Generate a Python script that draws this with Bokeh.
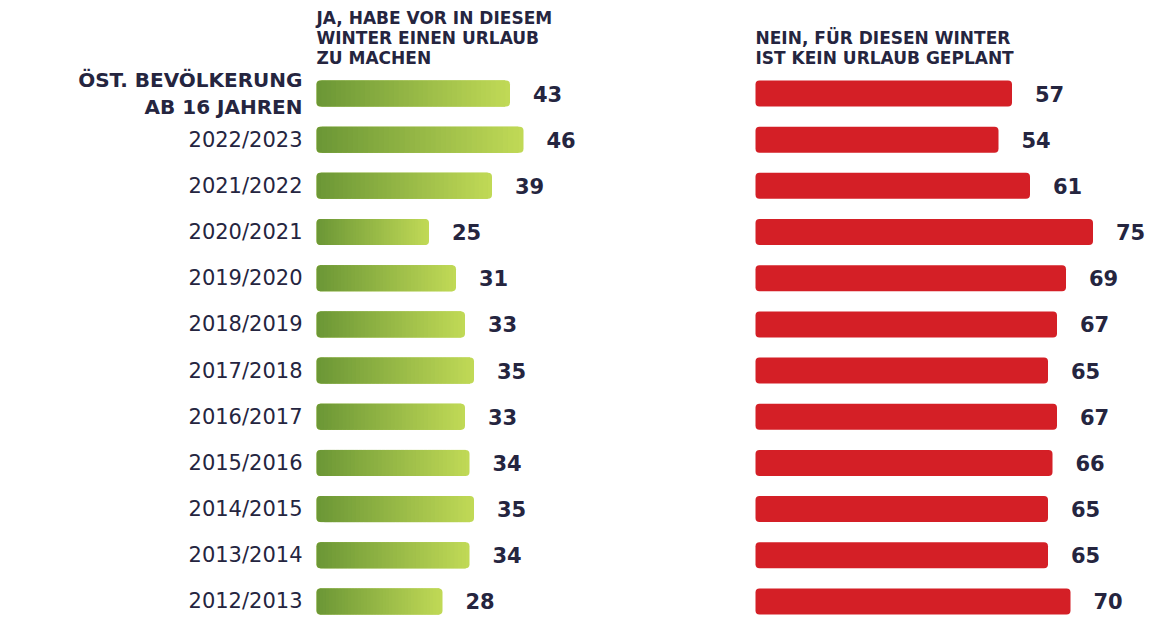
from bokeh.plotting import figure
from bokeh.models import Range1d
from bokeh.embed import file_html
from bokeh.resources import INLINE
from bokeh.core.properties import value

# ---- data ----
categories = ["ÖST. BEVÖLKERUNG\nAB 16 JAHREN", "2022/2023", "2021/2022", "2020/2021",
              "2019/2020", "2018/2019", "2017/2018", "2016/2017", "2015/2016",
              "2014/2015", "2013/2014", "2012/2013"]
ja = [43, 46, 39, 25, 31, 33, 35, 33, 34, 35, 34, 28]
nein = [57, 54, 61, 75, 69, 67, 65, 67, 66, 65, 65, 70]
header_ja = "JA, HABE VOR IN DIESEM\nWINTER EINEN URLAUB\nZU MACHEN"
header_nein = "NEIN, FÜR DIESEN WINTER\nIST KEIN URLAUB GEPLANT"

# ---- styling ----
TXT = "#25253f"
RED = "#d41f26"
G0 = (0x6c, 0x97, 0x36)
G1 = (0xc0, 0xd9, 0x56)
FONT = "DejaVu Sans"
W, H = 1148, 615
SX = 4.5           # px per percent
ROW = 46.18        # px per row
X0 = -316 / SX
OFF = (755 - 316) / SX   # offset of right panel in data units
TOP = 93 / ROW
BH = 26 / ROW

p = figure(width=W, height=H, output_backend="svg", toolbar_location=None,
           x_range=Range1d(X0, X0 + W / SX), y_range=Range1d(TOP - H / ROW, TOP),
           min_border=0, outline_line_color=None)
p.axis.visible = False
p.grid.visible = False
p.background_fill_color = "white"

n = len(categories)
ys = [-i for i in range(n)]

def hexc(t):
    c = [round(G0[j] + (G1[j] - G0[j]) * t) for j in range(3)]
    return "#%02x%02x%02x" % tuple(c)

# green bars with gradient: full bar (light) + slices
p.hbar(y=ys, left=0, right=ja, height=BH, fill_color=hexc(1.0), line_color=None,
       border_radius=4)
N = 40
for k in range(N - 1):
    t = k / (N - 1)
    lefts = [v * k / N for v in ja]
    rights = [v * (k + 2) / N for v in ja] if k < N - 2 else [v * (k + 1) / N for v in ja]
    kw = dict(border_radius=(4, 0, 0, 4)) if k == 0 else {}
    p.hbar(y=ys, left=lefts, right=rights, height=BH, fill_color=hexc(t),
           line_color=None, **kw)

# red bars
p.hbar(y=ys, left=OFF, right=[OFF + v for v in nein], height=BH, fill_color=RED,
       line_color=None, border_radius=4)

# value labels
gap = 23 / SX
p.text(x=[v + gap for v in ja], y=ys, text=[str(v) for v in ja],
       text_font=value(FONT), text_font_style="bold", text_font_size="21px",
       text_color=TXT, text_baseline="middle", text_align="left")
p.text(x=[OFF + v + gap for v in nein], y=ys, text=[str(v) for v in nein],
       text_font=value(FONT), text_font_style="bold", text_font_size="21px",
       text_color=TXT, text_baseline="middle", text_align="left")

# category labels
lx = -(316 - 302) / SX
p.text(x=[lx], y=[ys[0]], text=[categories[0]], text_font=value(FONT),
       text_font_style="bold", text_font_size="20px", text_color=TXT,
       text_baseline="middle", text_align="right", text_line_height=1.15)
p.text(x=[lx] * (n - 1), y=ys[1:], text=categories[1:], text_font=value(FONT),
       text_font_size="21px", text_color=TXT, text_baseline="middle",
       text_align="right")

# headers
hy = (93 - 67) / ROW
p.text(x=[0], y=[hy], text=[header_ja], text_font=value(FONT), text_font_style="bold",
       text_font_size="17px", text_color=TXT, text_baseline="bottom",
       text_align="left", text_line_height=1.0)
p.text(x=[OFF], y=[hy], text=[header_nein], text_font=value(FONT), text_font_style="bold",
       text_font_size="17px", text_color=TXT, text_baseline="bottom",
       text_align="left", text_line_height=1.0)

open("out.html", "w").write(file_html(p, INLINE))
